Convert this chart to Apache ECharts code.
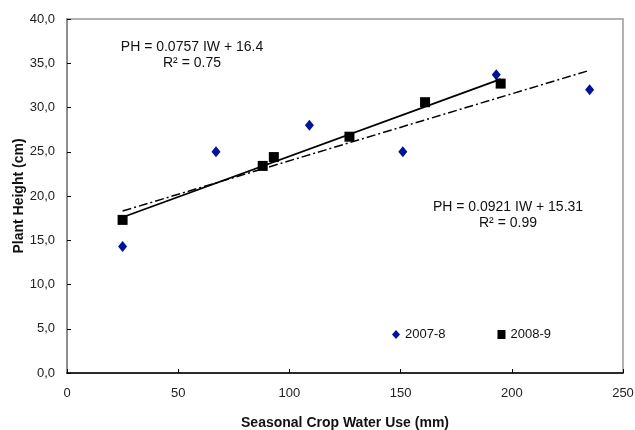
<!DOCTYPE html>
<html><head><meta charset="utf-8">
<script src="https://cdn.jsdelivr.net/npm/echarts@6/dist/echarts.min.js"></script>
<style>html,body{margin:0;padding:0;background:#fff}#c{width:635px;height:430px}</style>
</head><body><div id="c"></div>
<script>
var xTicks = [0, 50, 100, 150, 200, 250];
var yTicks = [0, 5, 10, 15, 20, 25, 30, 35, 40];
var s1Name = '2007-8';
var s1X = [25, 67, 109, 151, 193, 235];
var s1Y = [14.3, 25.0, 28.0, 25.0, 33.7, 32.0];
var s2Name = '2008-9';
var s2X = [25, 88, 93, 127, 161, 195];
var s2Y = [17.3, 23.4, 24.4, 26.7, 30.6, 32.7];
var trend1X = [25, 235];
var trend1Y = [18.3, 34.2];
var trend2X = [25, 195];
var trend2Y = [17.6, 33.2];
var eq1 = ['PH = 0.0757 IW + 16.4', 'R² = 0.75'];
var eq2 = ['PH = 0.0921 IW + 15.31', 'R² = 0.99'];

function zip(a, b) { return a.map(function (v, i) { return [v, b[i]]; }); }

var chart = echarts.init(document.getElementById('c'), null, {renderer: 'canvas'});
var font = 'Liberation Sans, Arial, sans-serif';
chart.setOption({
  animation: false,
  textStyle: {fontFamily: font},
  grid: {left: 67, top: 19, right: 12, bottom: 57, show: true, borderColor: '#999', borderWidth: 1.5,
    containLabel: false, outerBoundsMode: 'none'},
  xAxis: {
    type: 'value', min: xTicks[0], max: xTicks[xTicks.length - 1], interval: 50,
    name: 'Seasonal Crop Water Use (mm)', nameLocation: 'middle', nameGap: 43, nameMoveOverlap: false,
    nameTextStyle: {fontWeight: 'bold', fontSize: 14, color: '#111'},
    axisLine: {lineStyle: {color: '#000', width: 1.5}},
    axisTick: {inside: true, length: 4, lineStyle: {color: '#000'}},
    axisLabel: {fontSize: 13, color: '#222', margin: 14},
    splitLine: {show: false}
  },
  yAxis: {
    type: 'value', min: yTicks[0], max: yTicks[yTicks.length - 1], interval: 5,
    name: 'Plant Height (cm)', nameLocation: 'middle', nameGap: 41, nameMoveOverlap: false,
    nameTextStyle: {fontWeight: 'bold', fontSize: 14, color: '#111'},
    axisLine: {show: true, lineStyle: {color: '#808080', width: 1.5}},
    axisTick: {show: true, inside: true, length: 4, lineStyle: {color: '#000'}},
    axisLabel: {fontSize: 13, color: '#222', margin: 12,
      formatter: function (v) { return v.toFixed(1).replace('.', ','); }},
    splitLine: {show: false}
  },
  legend: {
    left: 392, top: 328, padding: 0, itemGap: 52, itemWidth: 8, itemHeight: 9, itemTextGap: 5,
    textStyle: {fontSize: 13, color: '#111', fontFamily: font},
    data: [{name: s1Name, icon: 'diamond'}, {name: s2Name, icon: 'rect'}]
  },
  graphic: [
    {type: 'text', style: {text: eq1[0] + '\n' + eq1[1], x: 192, y: 39, align: 'center', fontSize: 14, lineHeight: 16, fill: '#111', fontFamily: font}},
    {type: 'text', style: {text: eq2[0] + '\n' + eq2[1], x: 508, y: 199, align: 'center', fontSize: 14, lineHeight: 16, fill: '#111', fontFamily: font}}
  ],
  series: [
    {type: 'line', data: zip(trend1X, trend1Y), symbol: 'none', silent: true,
      lineStyle: {color: '#000', width: 1.5, type: [9, 3, 2, 3]}, z: 1},
    {type: 'line', data: zip(trend2X, trend2Y), symbol: 'none', silent: true,
      lineStyle: {color: '#000', width: 1.8}, z: 1},
    {name: s1Name, type: 'scatter', symbol: 'diamond', symbolSize: [9, 11], data: zip(s1X, s1Y),
      itemStyle: {color: '#00139a', opacity: 1}, z: 3},
    {name: s2Name, type: 'scatter', symbol: 'rect', symbolSize: 10, data: zip(s2X, s2Y),
      itemStyle: {color: '#000', opacity: 1}, z: 3}
  ]
});
</script></body></html>
